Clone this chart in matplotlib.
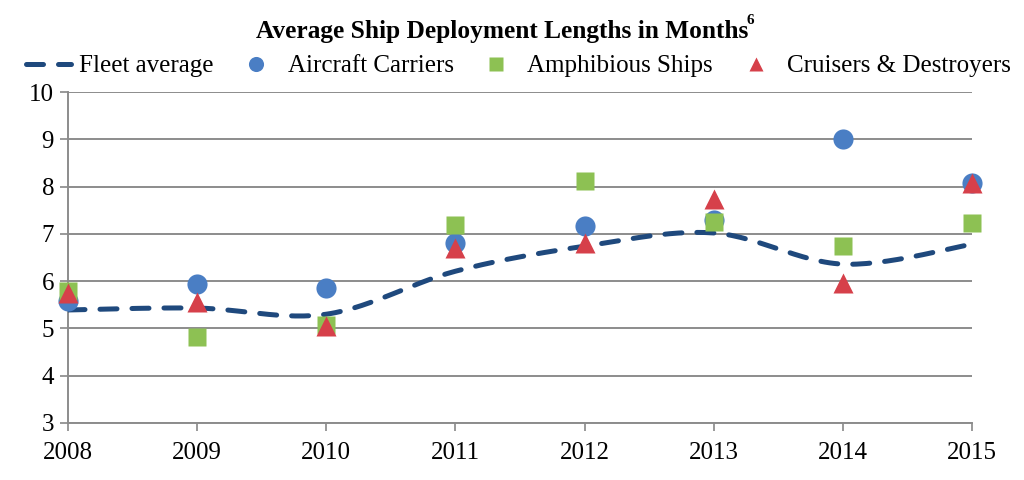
import numpy as np
import matplotlib
matplotlib.use("Agg")
import matplotlib.pyplot as plt

years = [2008, 2009, 2010, 2011, 2012, 2013, 2014, 2015]
fleet_avg = [5.39, 5.43, 5.30, 6.21, 6.74, 7.02, 6.36, 6.78]
carriers = [5.58, 5.94, 5.85, 6.81, 7.17, 7.29, 9.00, 8.07]
amphibious = [5.79, 4.82, 5.07, 7.19, 8.12, 7.25, 6.74, 7.23]
cruisers = [5.75, 5.56, 5.04, 6.70, 6.80, 7.74, 5.96, 8.07]
y_ticks = [3, 4, 5, 6, 7, 8, 9, 10]


def smooth(xs, ys, n=30):
    # Catmull-Rom style bezier, like a spreadsheet "smoothed line"
    xs = np.asarray(xs, float)
    ys = np.asarray(ys, float)
    px, py = [], []
    for i in range(len(xs) - 1):
        x0, y0 = (xs[i - 1], ys[i - 1]) if i > 0 else (xs[i], ys[i])
        x3, y3 = (xs[i + 2], ys[i + 2]) if i + 2 < len(xs) else (xs[i + 1], ys[i + 1])
        x1, y1, x2, y2 = xs[i], ys[i], xs[i + 1], ys[i + 1]
        c1x, c1y = x1 + (x2 - x0) / 6, y1 + (y2 - y0) / 6
        c2x, c2y = x2 - (x3 - x1) / 6, y2 - (y3 - y1) / 6
        t = np.linspace(0, 1, n)
        b = [(1 - t) ** 3, 3 * (1 - t) ** 2 * t, 3 * (1 - t) * t ** 2, t ** 3]
        px.extend(b[0] * x1 + b[1] * c1x + b[2] * c2x + b[3] * x2)
        py.extend(b[0] * y1 + b[1] * c1y + b[2] * c2y + b[3] * y2)
    return px, py


plt.rcParams['font.family'] = ['Liberation Serif', 'DejaVu Serif']
plt.rcParams['mathtext.fontset'] = 'stix'

fig = plt.figure(figsize=(10.24, 4.8), dpi=100)
ax = fig.add_axes([0.0664, 0.119, 0.8828, 0.689])

sx, sy = smooth(years, fleet_avg)
ax.plot(sx, sy, color='#1F497D', lw=3.6, ls=(0, (3.4, 3.0)), dash_capstyle='round',
        label='Fleet average', zorder=3)
ax.plot(years, carriers, 'o', color='#4A7EC4', ms=14.5, mec='none', label='Aircraft Carriers',
        zorder=4, clip_on=False)
ax.plot(years, amphibious, 's', color='#8DC153', ms=12.5, mec='none', label='Amphibious Ships',
        zorder=5, clip_on=False)
ax.plot(years, cruisers, '^', color='#D6404A', ms=14, mec='none', label='Cruisers & Destroyers',
        zorder=6, clip_on=False)

ax.set_xlim(years[0], years[-1])
ax.set_ylim(3, 10)
ax.set_xticks(years)
ax.set_yticks(y_ticks)
ax.tick_params(labelsize=18, colors='#888888', labelcolor='black', length=6, width=1.2)
ax.tick_params(axis='x', pad=8)
ax.tick_params(axis='y', pad=4)
ax.grid(axis='y', color='#8C8C8C', lw=1.4)
ax.set_axisbelow(True)
for s in ['top', 'right']:
    ax.spines[s].set_visible(False)
for s in ['left', 'bottom']:
    ax.spines[s].set_color('#8C8C8C')
    ax.spines[s].set_linewidth(1.4)

fig.text(0.49, 0.935, 'Average Ship Deployment Lengths in Months',
         ha='center', va='center', fontsize=18.3, fontweight='bold')
fig.text(0.729, 0.958, '6', ha='left', va='center', fontsize=11, fontweight='bold')
fig.legend(loc='center', bbox_to_anchor=(0.506, 0.862), ncol=4, frameon=False,
           fontsize=18, handlelength=1.8, handletextpad=0.35, columnspacing=0.8,
           markerscale=0.75, borderaxespad=0, borderpad=0)

fig.savefig('out.png', dpi=100)
